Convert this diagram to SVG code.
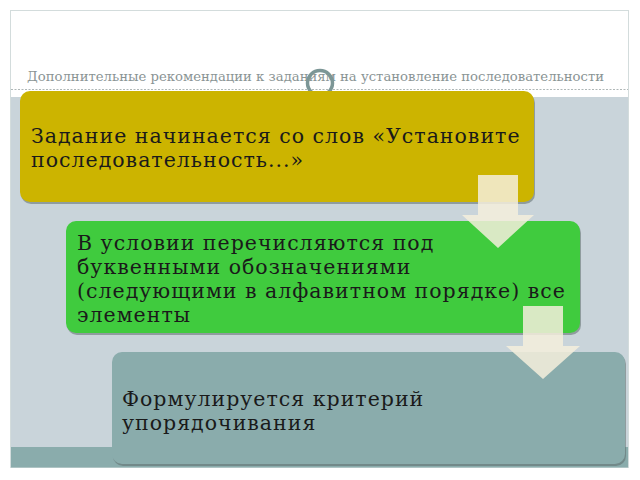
<svg xmlns="http://www.w3.org/2000/svg" width="640" height="480" viewBox="0 0 640 480">
<defs>
<style>
.t{font-family:"DejaVu Serif","Liberation Serif",serif;font-size:20.5px;letter-spacing:1px;fill:#1a1a1a}
.title{font-family:"DejaVu Serif","Liberation Serif",serif;font-size:12px;fill:#8a9494}
.shadow{fill:#5e6e6e;opacity:0.55}
.arrow{fill:#f4efdc;opacity:0.85}
</style>
</defs>
<rect x="0" y="0" width="640" height="480" fill="#ffffff"/>
<rect x="10.5" y="10.5" width="618" height="457" fill="#ffffff" stroke="#d3dcdc" stroke-width="1"/>
<rect x="11" y="97" width="617" height="350" fill="#c9d4da"/>
<rect x="11" y="447" width="617" height="20.5" fill="#8aacac"/>
<line x1="11" y1="89.5" x2="628" y2="89.5" stroke="#9aa4a4" stroke-width="0.8" stroke-dasharray="2,1.5"/>
<text class="title" x="27" y="81" textLength="577" lengthAdjust="spacingAndGlyphs">Дополнительные рекомендации к заданиям на установление последовательности</text>
<circle cx="320" cy="83" r="12.5" fill="none" stroke="#7c9696" stroke-width="3.5"/>
<g id="node1">
<rect class="shadow" x="21" y="93" width="514" height="111" rx="10"/>
<rect x="20" y="91" width="514" height="111" rx="10" fill="#ccb400"/>
<text class="t" x="31" y="143">Задание начинается со слов «Установите</text>
<text class="t" x="31" y="167">последовательность...»</text>
</g>
<g id="node2">
<rect class="shadow" x="67" y="223" width="514" height="112" rx="10"/>
<rect x="66" y="221" width="514" height="112" rx="10" fill="#40cb3e"/>
<text class="t" x="77" y="250">В условии перечисляются под</text>
<text class="t" x="77" y="274">буквенными обозначениями</text>
<text class="t" x="77" y="298">(следующими в алфавитном порядке) все</text>
<text class="t" x="77" y="322">элементы</text>
</g>
<g id="node3">
<rect class="shadow" x="113" y="354" width="513" height="112" rx="10"/>
<rect x="112" y="352" width="513" height="112" rx="10" fill="#8aacac"/>
<text class="t" x="122" y="406">Формулируется критерий</text>
<text class="t" x="122" y="430">упорядочивания</text>
</g>
<g id="connectors">
<polygon class="arrow" points="478,175 518,175 518,215 534,215 498,248 462,215 478,215"/>
<polygon class="arrow" points="523,306 563,306 563,346 580,346 543,379 506,346 523,346"/>
</g>
</svg>
